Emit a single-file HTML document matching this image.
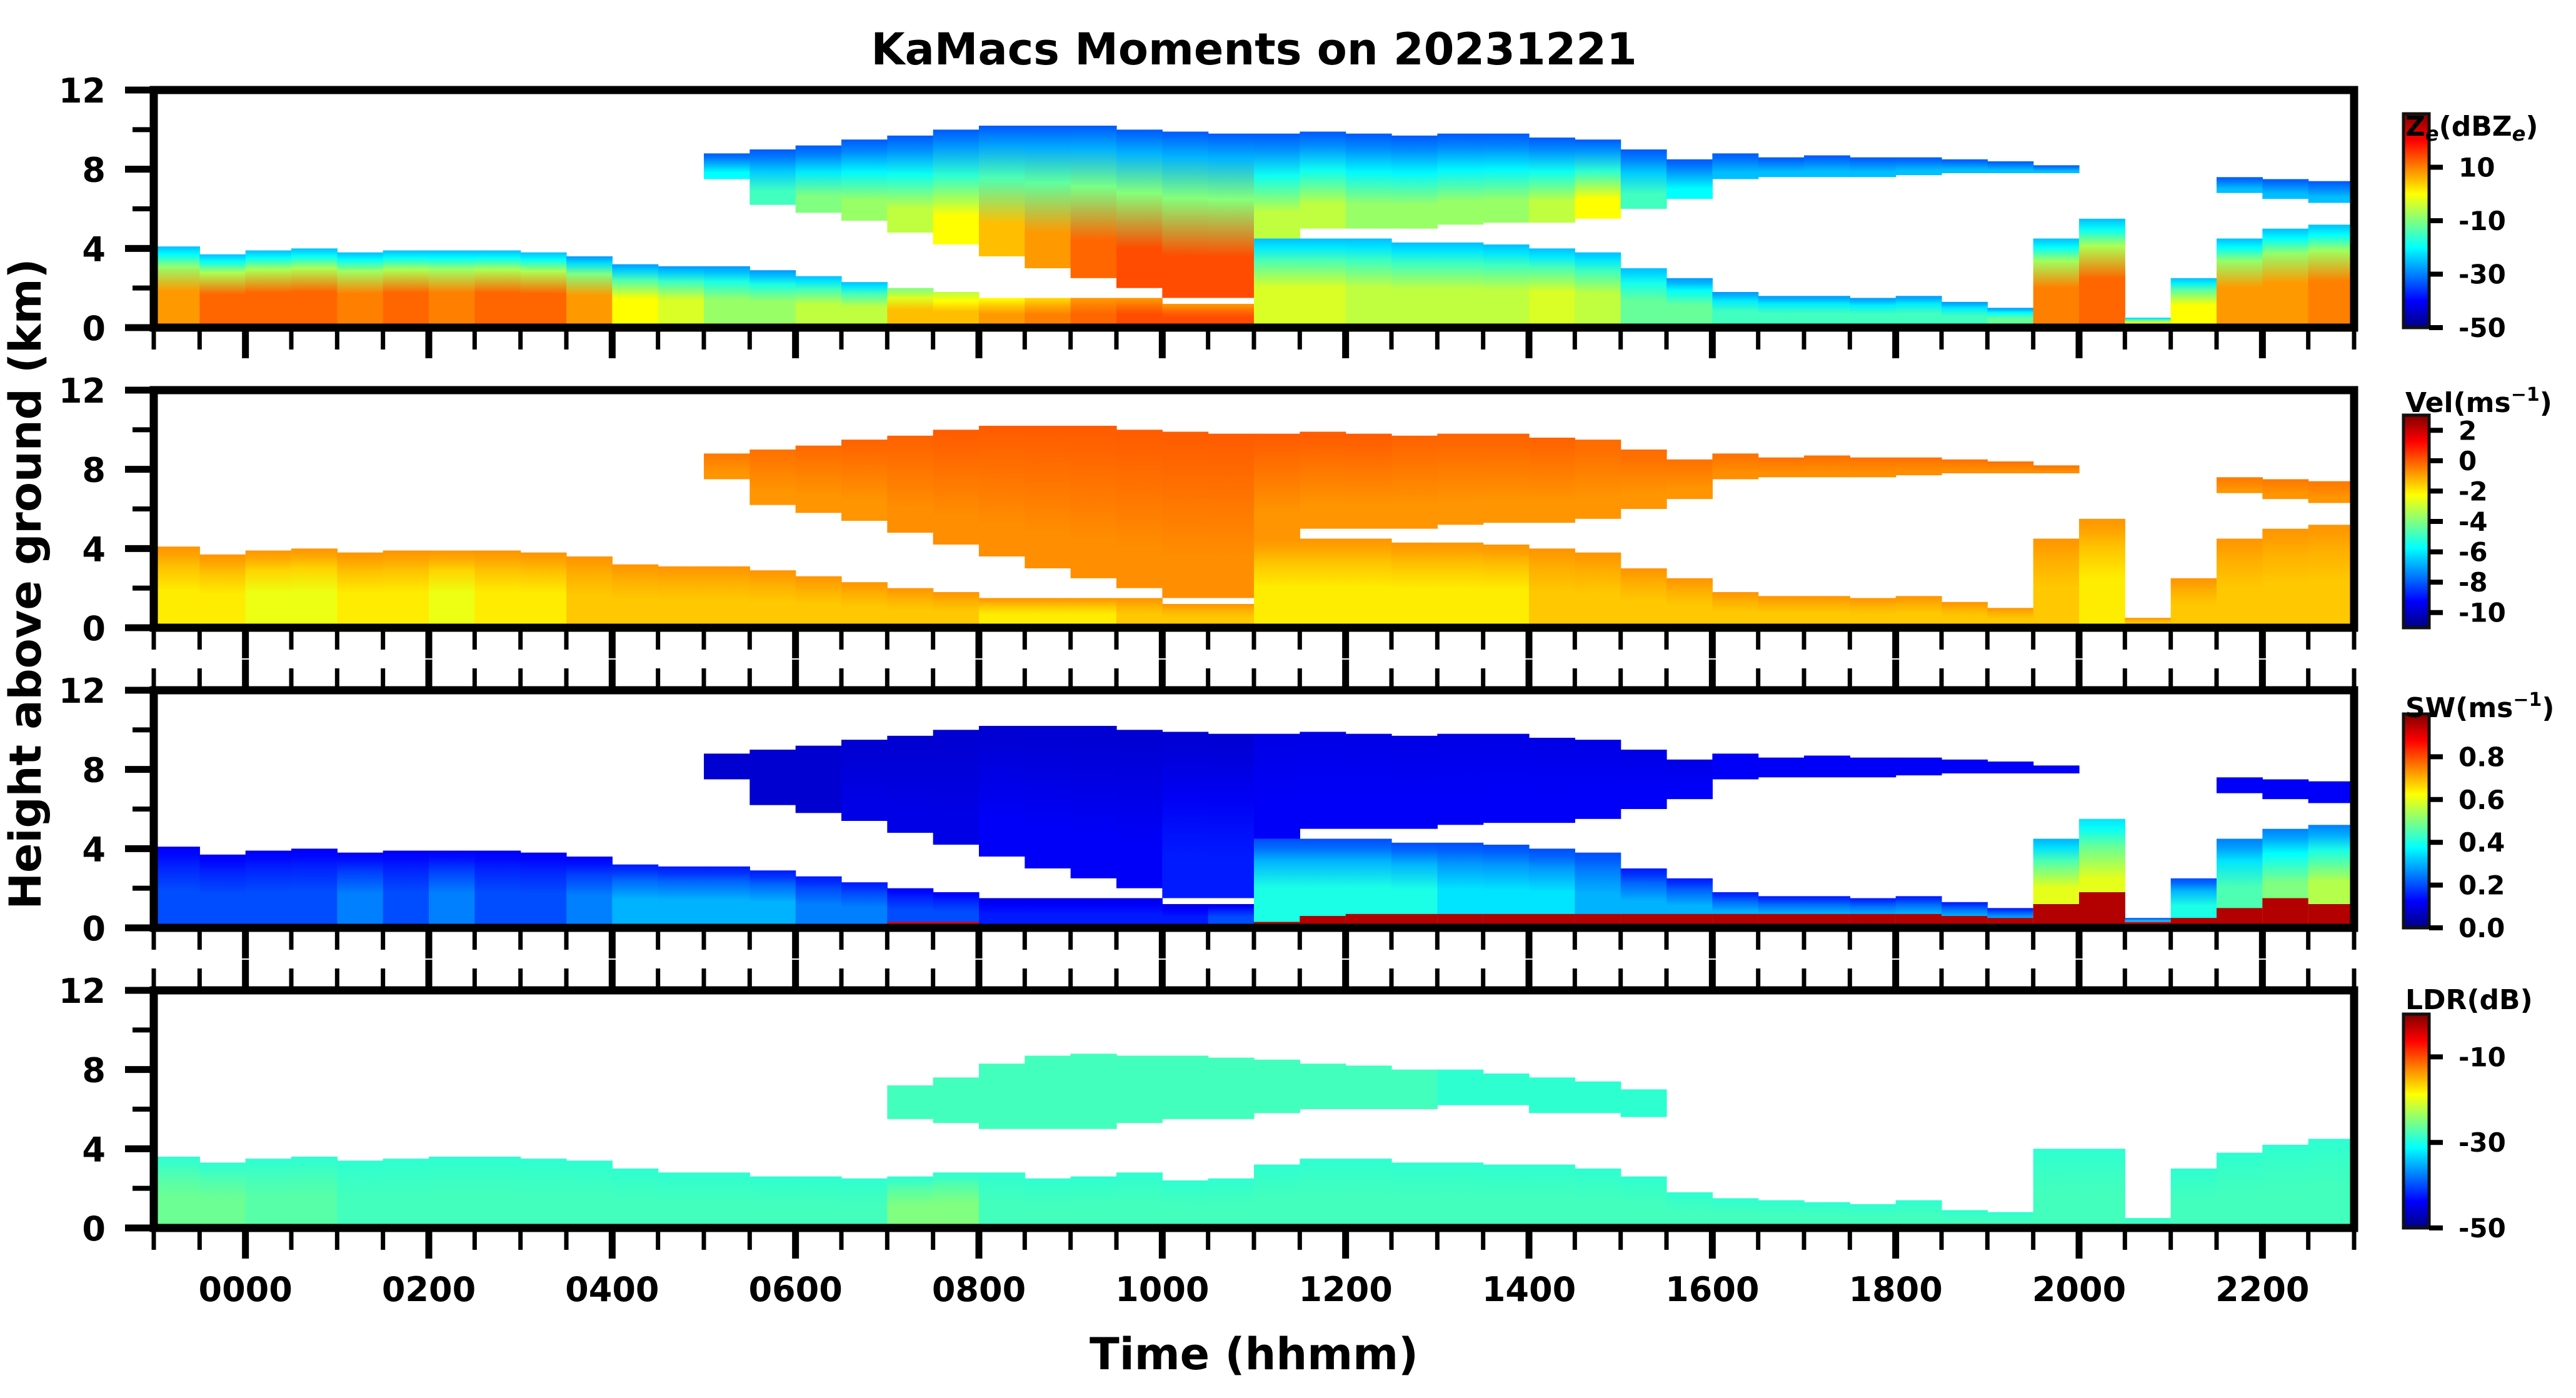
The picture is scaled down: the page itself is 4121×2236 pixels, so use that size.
<!DOCTYPE html>
<html><head><meta charset="utf-8"><title>KaMacs Moments on 20231221</title>
<style>html,body{margin:0;padding:0;background:#fff}svg{display:block}
text{font-family:"DejaVu Sans","Liberation Sans",sans-serif;font-weight:bold;fill:#000}</style></head>
<body>
<svg id="fig" xmlns="http://www.w3.org/2000/svg" width="4121" height="2236" viewBox="0 0 4121 2236">
<defs id="defs"></defs>
<text x="2006" y="103" font-size="70" text-anchor="middle">KaMacs Moments on 20231221</text>
<text transform="translate(65,934) rotate(-90)" font-size="70" text-anchor="middle">Height above ground (km)</text>
<text x="2006" y="2190" font-size="70" text-anchor="middle">Time (hhmm)</text>
<g id="panels"></g>
</svg>
<script>
// ---- data (half-hour bins starting at -1.0 h through 22.5 h) ----
const binStarts = [-1,-0.5,0,0.5,1,1.5,2,2.5,3,3.5,4,4.5,5,5.5,6,6.5,7,7.5,8,8.5,9,9.5,10,10.5,11,11.5,12,12.5,13,13.5,14,14.5,15,15.5,16,16.5,17,17.5,18,18.5,19,19.5,20,20.5,21,21.5,22,22.5];
const lowTop = [4.1,3.7,3.9,4.0,3.8,3.9,3.9,3.9,3.8,3.6,3.2,3.1, 3.1,2.9,2.6,2.3,2.0,1.8,1.5,1.5,1.5,1.5,1.2,1.2, 4.5,4.5,4.5,4.3,4.3,4.2,4.0,3.8,3.0,2.5,1.8,1.6, 1.6,1.5,1.6,1.3,1.0,4.5,5.5,0.5,2.5,4.5,5.0,5.2];
const upBase = [0,0,0,0,0,0,0,0,0,0,0,0, 7.5,6.2,5.8,5.4,4.8,4.2,3.6,3.0,2.5,2.0,1.5,1.5, 4.5,5.0,5.0,5.0,5.2,5.3,5.3,5.5,6.0,6.5,7.5,7.6, 7.6,7.6,7.7,7.8,7.8,7.8,0,0,0,6.8,6.5,6.3];
const upTop = [0,0,0,0,0,0,0,0,0,0,0,0, 8.8,9.0,9.2,9.5,9.7,10.0,10.2,10.2,10.2,10.0,9.9,9.8, 9.8,9.9,9.8,9.7,9.8,9.8,9.6,9.5,9.0,8.5,8.8,8.6, 8.7,8.6,8.6,8.5,8.4,8.2,0,0,0,7.6,7.5,7.4];
const groundTop = [0.2,0.2,0.2,0.2,0.2,0.2,0.2,0.2,0.2,0.2,0.2,0.2, 0.2,0.2,0.2,0.2,0.3,0.3,0.2,0.2,0.1,0.1,0.1,0.1, 0.3,0.6,0.7,0.7,0.7,0.7,0.7,0.7,0.7,0.7,0.7,0.7, 0.7,0.7,0.7,0.6,0.5,1.2,1.8,0.3,0.5,1.0,1.5,1.2];

const zeLowBot = [8,12,12,12,10,12,10,12,12,8,0,-3, -8,-8,-5,-5,5,5,8,10,12,14,14,14, -3,-3,-5,-5,-5,-5,-3,-5,-12,-12,-15,-15, -15,-15,-15,-15,-12,10,12,0,0,8,8,10];
const zeLowTop = [-25,-25,-25,-25,-25,-25,-25,-25,-25,-28,-28,-28, -28,-28,-25,-25,-10,-5,0,3,8,8,8,8, -25,-25,-25,-25,-25,-25,-25,-25,-25,-28,-28,-28, -28,-28,-28,-28,-28,-25,-25,-25,-25,-25,-25,-25];
const zeUpBase = [0,0,0,0,0,0,0,0,0,0,0,0, -20,-15,-10,-8,-5,0,5,8,12,14,14,14, -5,-5,-8,-8,-8,-8,-5,0,-15,-20,-25,-25, -25,-25,-25,-25,-25,-25,0,0,0,-25,-25,-25];
const zeUpTop = [0,0,0,0,0,0,0,0,0,0,0,0, -33,-33,-33,-33,-33,-33,-33,-33,-33,-33,-33,-33, -33,-33,-33,-33,-33,-33,-33,-33,-33,-33,-33,-33, -33,-33,-33,-33,-33,-33,0,0,0,-33,-33,-33];

const velLowBot = [-2,-2,-2.5,-2.5,-2,-2,-2.5,-2,-2,-1.5,-1.5,-1.5, -1.5,-1.5,-1.5,-1.5,-1.5,-1.5,-2,-2,-2,-1.5,-1.5,-1.5, -2,-2,-2,-2,-2,-2,-1.5,-1.5,-1.5,-1.5,-1.5,-1.5, -1.5,-1.5,-1.5,-1.5,-1.5,-1.5,-2,-1.5,-1.5,-1.5,-1.5,-1.5];
const velLowTop = [-0.8,-0.8,-0.8,-0.8,-0.8,-0.8,-0.8,-0.8,-0.8,-0.8,-0.8,-0.8, -0.8,-0.8,-0.8,-0.8,-0.8,-0.8,-0.8,-0.8,-0.8,-0.8,-0.8,-0.8, -0.8,-0.8,-0.8,-0.8,-0.8,-0.8,-0.8,-0.8,-0.8,-0.8,-0.8,-0.8, -0.8,-0.8,-0.8,-0.8,-0.8,-0.8,-0.8,-0.8,-0.8,-0.8,-0.8,-0.8];
const velUpBase = [0,0,0,0,0,0,0,0,0,0,0,0, -0.8,-0.8,-0.8,-0.8,-0.7,-0.7,-0.7,-0.7,-0.7,-0.7,-0.7,-0.7, -0.8,-0.8,-0.8,-0.8,-0.8,-0.8,-0.8,-0.8,-0.8,-0.8,-0.7,-0.7, -0.7,-0.7,-0.7,-0.7,-0.7,-0.7,0,0,0,-0.8,-0.8,-0.8];
const velUpTop = [0,0,0,0,0,0,0,0,0,0,0,0, -0.4,-0.3,-0.2,-0.1,-0.1,0,0,0,0,0,0,0, 0,0,0,-0.1,-0.1,-0.1,-0.1,-0.2,-0.2,-0.3,-0.3,-0.3, -0.3,-0.3,-0.3,-0.3,-0.3,-0.3,0,0,0,-0.4,-0.4,-0.4];

const swLowBot = [0.2,0.2,0.2,0.2,0.25,0.2,0.25,0.2,0.2,0.25,0.3,0.3, 0.3,0.3,0.25,0.25,0.2,0.2,0.15,0.15,0.15,0.15,0.15,0.2, 0.4,0.4,0.4,0.4,0.35,0.35,0.35,0.3,0.3,0.3,0.3,0.3, 0.3,0.3,0.3,0.3,0.3,0.6,0.6,0.4,0.4,0.45,0.5,0.55];
const swLowTop = [0.12,0.12,0.12,0.12,0.12,0.12,0.12,0.12,0.12,0.12,0.15,0.15, 0.15,0.15,0.15,0.15,0.12,0.12,0.1,0.1,0.1,0.1,0.1,0.1, 0.2,0.2,0.2,0.2,0.2,0.2,0.2,0.2,0.15,0.15,0.15,0.15, 0.15,0.15,0.15,0.15,0.15,0.3,0.35,0.2,0.2,0.25,0.25,0.25];
const swUpBase = [0,0,0,0,0,0,0,0,0,0,0,0, 0.08,0.08,0.08,0.1,0.1,0.1,0.12,0.12,0.12,0.12,0.15,0.15, 0.12,0.12,0.12,0.12,0.12,0.12,0.12,0.12,0.12,0.12,0.12,0.12, 0.12,0.12,0.12,0.12,0.12,0.12,0,0,0,0.12,0.12,0.12];
const swUpTop = [0,0,0,0,0,0,0,0,0,0,0,0, 0.08,0.08,0.08,0.08,0.08,0.08,0.08,0.08,0.08,0.08,0.08,0.08, 0.1,0.1,0.1,0.1,0.1,0.1,0.1,0.1,0.1,0.1,0.12,0.12, 0.12,0.12,0.12,0.12,0.12,0.12,0,0,0,0.12,0.12,0.12];
const swGround = [0.9,0.9,0.9,0.9,0.9,0.9,0.9,0.9,0.9,0.9,0.9,0.9, 0.9,0.9,0.9,0.9,0.9,0.9,0.9,0.9,0.9,0.9,0.9,0.9, 0.95,0.95,0.95,0.95,0.95,0.95,0.95,0.95,0.95,0.95,0.95,0.95, 0.95,0.95,0.95,0.95,0.95,0.95,0.95,0.9,0.95,0.95,0.95,0.95];

const ldrLowTop = [3.6,3.3,3.5,3.6,3.4,3.5,3.6,3.6,3.5,3.4,3.0,2.8, 2.8,2.6,2.6,2.5,2.6,2.8,2.8,2.5,2.6,2.8,2.4,2.5, 3.2,3.5,3.5,3.3,3.3,3.2,3.2,3.0,2.6,1.8,1.5,1.4, 1.3,1.2,1.4,0.9,0.8,4.0,4.0,0.5,3.0,3.8,4.2,4.5];
const ldrUpBase = [0,0,0,0,0,0,0,0,0,0,0,0, 0,0,0,0,5.5,5.3,5.0,5.0,5.0,5.3,5.5,5.5, 5.8,6.0,6.0,6.0,6.2,6.2,5.8,5.8,5.6,0,0,0, 0,0,0,0,0,0,0,0,0,0,0,0];
const ldrUpTop = [0,0,0,0,0,0,0,0,0,0,0,0, 0,0,0,0,7.2,7.6,8.3,8.7,8.8,8.7,8.7,8.6, 8.5,8.3,8.2,8.0,8.0,7.8,7.6,7.4,7.0,0,0,0, 0,0,0,0,0,0,0,0,0,0,0,0];
const ldrLowBot = [-26,-26,-27,-27,-28,-28,-28,-28,-28,-28,-28,-28, -28,-28,-28,-28,-25,-25,-28,-28,-28,-28,-28,-28, -28,-28,-28,-28,-28,-28,-28,-28,-28,-28,-28,-28, -28,-28,-28,-28,-28,-28,-28,-28,-28,-28,-28,-28];
const ldrLowTop2 = [-29,-29,-29,-29,-29,-29,-29,-29,-29,-29,-29,-29, -29,-29,-29,-29,-29,-29,-29,-29,-29,-29,-29,-29, -29,-29,-29,-29,-29,-29,-29,-29,-29,-29,-29,-29, -29,-29,-29,-29,-29,-29,-29,-29,-29,-29,-29,-29];
const ldrUpVal = [0,0,0,0,0,0,0,0,0,0,0,0, 0,0,0,0,-28,-28,-28,-28,-28,-28,-28,-28, -28,-28,-28,-28,-29,-29,-29,-29,-29,0,0,0, 0,0,0,0,0,0,0,0,0,0,0,0];

const yTicks = [0,2,4,6,8,10,12];
const yLabels = ['0','','4','','8','','12'];
const xMajor = [0,2,4,6,8,10,12,14,16,18,20,22];
const xLabels = ['0000','0200','0400','0600','0800','1000','1200','1400','1600','1800','2000','2200'];
const cbTicks1 = [10,-10,-30,-50];
const cbTicks2 = [2,0,-2,-4,-6,-8,-10];
const cbTicks3 = [0.0,0.2,0.4,0.6,0.8];
const cbTicks4 = [-10,-30,-50];

// ---- geometry ----
const X0=246, X1=3766, T0=-1, T1=23;
const PH=380, PGAP=480, PTOP=144;
const xs = t => X0 + (t-T0)/(T1-T0)*(X1-X0);
const NS='http://www.w3.org/2000/svg';
const defs=document.getElementById('defs');
const root=document.getElementById('panels');
let gid=0;
function jet(f){f=Math.max(0,Math.min(1,f));
  const c=v=>Math.round(255*Math.max(0,Math.min(1,v)));
  return `rgb(${c(1.5-Math.abs(4*f-3))},${c(1.5-Math.abs(4*f-2))},${c(1.5-Math.abs(4*f-1))})`;}
function el(tag,attrs,parent){const e=document.createElementNS(NS,tag);for(const k in attrs)e.setAttribute(k,attrs[k]);(parent||root).appendChild(e);return e;}
function grad(cols,offs){const id='g'+(gid++);const g=el('linearGradient',{id,x1:0,y1:1,x2:0,y2:0},defs);
  cols.forEach((c,i)=>el('stop',{offset:offs?offs[i]:i/(cols.length-1),'stop-color':c},g));return 'url(#'+id+')';}

const panels=[
 {name:'reflectivity',vmin:-50,vmax:30,ticks:cbTicks1,fmt:v=>String(v),label:'Z<tspan font-style="italic" font-size="32" dy="8">e</tspan><tspan dy="-8">(dBZ</tspan><tspan font-style="italic" font-size="32" dy="8">e</tspan><tspan dy="-8">)</tspan>',labDy:35,topTicks:false,
  layers:[[()=>0,lowTop,zeLowBot,zeLowTop],[upBase,upTop,zeUpBase,zeUpTop]],ground:null},
 {name:'velocity',vmin:-11,vmax:3,ticks:cbTicks2,fmt:v=>String(v),label:'Vel(ms<tspan font-size="30" dy="-18">−1</tspan><tspan dy="18">)</tspan>',labDy:-5,topTicks:false,
  layers:[[()=>0,lowTop,velLowBot,velLowTop],[upBase,upTop,velUpBase,velUpTop]],ground:null},
 {name:'spectrum-width',vmin:0,vmax:1,ticks:cbTicks3,fmt:v=>v.toFixed(1),label:'SW(ms<tspan font-size="30" dy="-18">−1</tspan><tspan dy="18">)</tspan>',labDy:5,topTicks:true,
  layers:[[()=>0,lowTop,swLowBot,swLowTop],[upBase,upTop,swUpBase,swUpTop]],ground:[groundTop,swGround]},
 {name:'ldr',vmin:-50,vmax:0,ticks:cbTicks4,fmt:v=>String(v),label:'LDR(dB)',labDy:-8,topTicks:true,
  layers:[[()=>0,ldrLowTop,ldrLowBot,ldrLowTop2],[ldrUpBase,ldrUpTop,ldrUpVal,ldrUpVal]],ground:null,ldr:true}
];

panels.forEach((p,k)=>{
  const top=PTOP+k*PGAP, bot=top+PH;
  const ys=h=>bot-h/12*PH;
  const cmap=v=>jet((v-p.vmin)/(p.vmax-p.vmin));
  const g=el('g',{});
  
  
  const cid='clip'+k;
  const cp=el('clipPath',{id:cid},defs); el('rect',{x:X0,y:top,width:X1-X0,height:PH},cp);
  const data=el('g',{'clip-path':'url(#'+cid+')'},g);
  
  
  binStarts.forEach((t,i)=>{
    const x0=xs(t), x1=xs(t+0.5);
    p.layers.forEach((L,li)=>{
      const b=(typeof L[0]==='function')?0:L[0][i], h=L[1][i];
      if(!(h>0) || h<=b) return;
      const vb=L[2][i], vt=L[3][i];
      const cols=[cmap(vb),cmap(vb),cmap(vb*0.5+vt*0.5),cmap(vb*0.15+vt*0.85),cmap(vt)];
      const offs=li===0?[0,0.45,0.75,0.9,1]:[0,0.25,0.6,0.85,1];
      const r=el('rect',{x:x0,y:ys(h),width:x1-x0+0.6,height:ys(b)-ys(h),fill:grad(cols,offs)},data);
      
      
    });
    if(p.ground && lowTop[i]>0){
      const r=el('rect',{x:x0,y:ys(p.ground[0][i]),width:x1-x0+0.6,height:ys(0)-ys(p.ground[0][i]),fill:cmap(p.ground[1][i])},data);
      
      
    }
    if(p.ldr && ldrLowTop[i]>0){
      const r=el('rect',{x:x0,y:ys(0.15),width:x1-x0+0.6,height:ys(0)-ys(0.15),fill:cmap(-14)},data);
      
      
    }
  });
  const sp=el('rect',{x:X0,y:top,width:X1-X0,height:PH,fill:'none',stroke:'#000','stroke-width':13},g);
  
  
  yTicks.forEach((v,j)=>{
    const major=yLabels[j]!=='';
    el('line',{x1:major?200:212,x2:X0,y1:ys(v),y2:ys(v),stroke:'#000','stroke-width':major?11:8},g);
    if(major){const tx=el('text',{x:169,y:ys(v)+20,'font-size':54,'text-anchor':'end'},g);tx.textContent=yLabels[j];
      
      }
  });
  for(let m=0;m<=48;m++){
    const t=T0+m*0.5, major=(Math.abs(t%2)<1e-6);
    const x=xs(t), len=major?43:29;
    el('line',{x1:x,x2:x,y1:bot+6,y2:bot+6+len,stroke:'#000','stroke-width':major?11:7},g);
    if(p.topTicks) el('line',{x1:x,x2:x,y1:top-6,y2:top-6-len,stroke:'#000','stroke-width':major?11:7},g);
  }
  if(k===3){
    xMajor.forEach((t,j)=>{const tx=el('text',{x:xs(t),y:2081,'font-size':54,'text-anchor':'middle'},g);tx.textContent=xLabels[j];
      
      });
  }
  const cTop=top+(k===1?40:38), cBot=bot, cx0=3845, cx1=3886;
  const cb=el('g',{},g);
  
  
  const stops=[];for(let s=0;s<=8;s++)stops.push(jet(s/8));
  el('rect',{x:cx0,y:cTop,width:cx1-cx0,height:cBot-cTop,fill:grad(stops),stroke:'#111','stroke-width':5},cb);
  const cy=v=>cBot-(v-p.vmin)/(p.vmax-p.vmin)*(cBot-cTop);
  p.ticks.forEach(v=>{
    el('line',{x1:cx1,x2:3908,y1:cy(v),y2:cy(v),stroke:'#000','stroke-width':8},cb);
    const tx=el('text',{x:3933,y:cy(v)+15,'font-size':42},cb);tx.textContent=p.fmt(v);
    
    
  });
  const lab=el('text',{x:3848,y:cTop+p.labDy,'font-size':44},cb);lab.innerHTML=p.label;
  
  
});
</script>
</body></html>
